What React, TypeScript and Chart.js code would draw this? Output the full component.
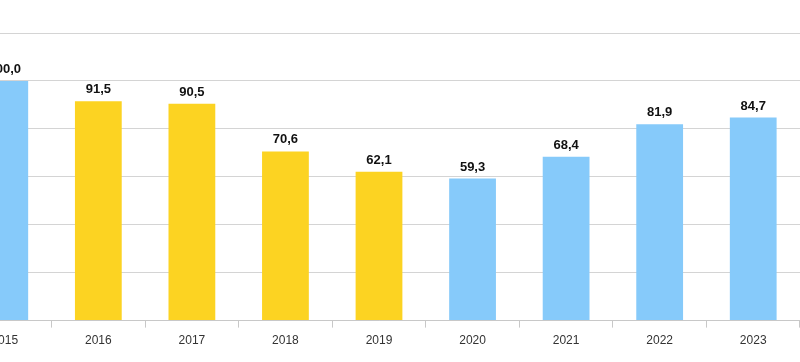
import React, { useEffect, useRef } from "react";
import { Chart, registerables } from "chart.js";

Chart.register(...registerables);

const years = ["2015", "2016", "2017", "2018", "2019", "2020", "2021", "2022", "2023"];
const values = [100.0, 91.5, 90.5, 70.6, 62.1, 59.3, 68.4, 81.9, 84.7];
const BLUE = "#86CAFA";
const YELLOW = "#FCD322";
const barColors = [BLUE, YELLOW, YELLOW, YELLOW, YELLOW, BLUE, BLUE, BLUE, BLUE];

const labelPlugin = {
  id: "valueLabels",
  afterDatasetsDraw(chart: any) {
    const ctx = chart.ctx;
    const meta = chart.getDatasetMeta(0);
    ctx.save();
    ctx.font = "bold 13px Arial, 'Liberation Sans', sans-serif";
    ctx.fillStyle = "#111";
    ctx.textAlign = "center";
    ctx.textBaseline = "bottom";
    meta.data.forEach((bar: any, i: number) => {
      const v = values[i].toFixed(1).replace(".", ",");
      ctx.fillText(v, bar.x, bar.y - 5);
    });
    ctx.restore();
  },
};

export default function App() {
  const ref = useRef<HTMLCanvasElement>(null);
  useEffect(() => {
    if (!ref.current) return;
    const chart = new Chart(ref.current, {
      type: "bar",
      data: {
        labels: years,
        datasets: [
          {
            data: values,
            backgroundColor: barColors,
            categoryPercentage: 0.5,
            barPercentage: 1.0,
          },
        ],
      },
      options: {
        animation: false,
        responsive: false,
        maintainAspectRatio: false,
        layout: { padding: { top: 33, left: 0, right: 0, bottom: 8 } },
        plugins: { legend: { display: false }, tooltip: { enabled: false } },
        scales: {
          x: {
            grid: {
              offset: true,
              drawOnChartArea: false,
              drawTicks: true,
              tickLength: 7,
              color: "#c8c8c8",
            },
            border: { display: true, color: "#c8c8c8" },
            ticks: {
              color: "#333",
              font: { family: "Arial, 'Liberation Sans', sans-serif", size: 12 },
              padding: 6,
            },
          },
          y: {
            min: 0,
            max: 120,
            ticks: { display: false, stepSize: 20 },
            grid: { color: "#d4d4d4", drawTicks: false },
            border: { display: false },
          },
        },
      },
      plugins: [labelPlugin],
    });
    return () => chart.destroy();
  }, []);
  return (
    <div style={{ position: "absolute", left: -42, top: 0, width: 842, height: 362 }}>
      <canvas ref={ref} width={842} height={362} />
    </div>
  );
}
